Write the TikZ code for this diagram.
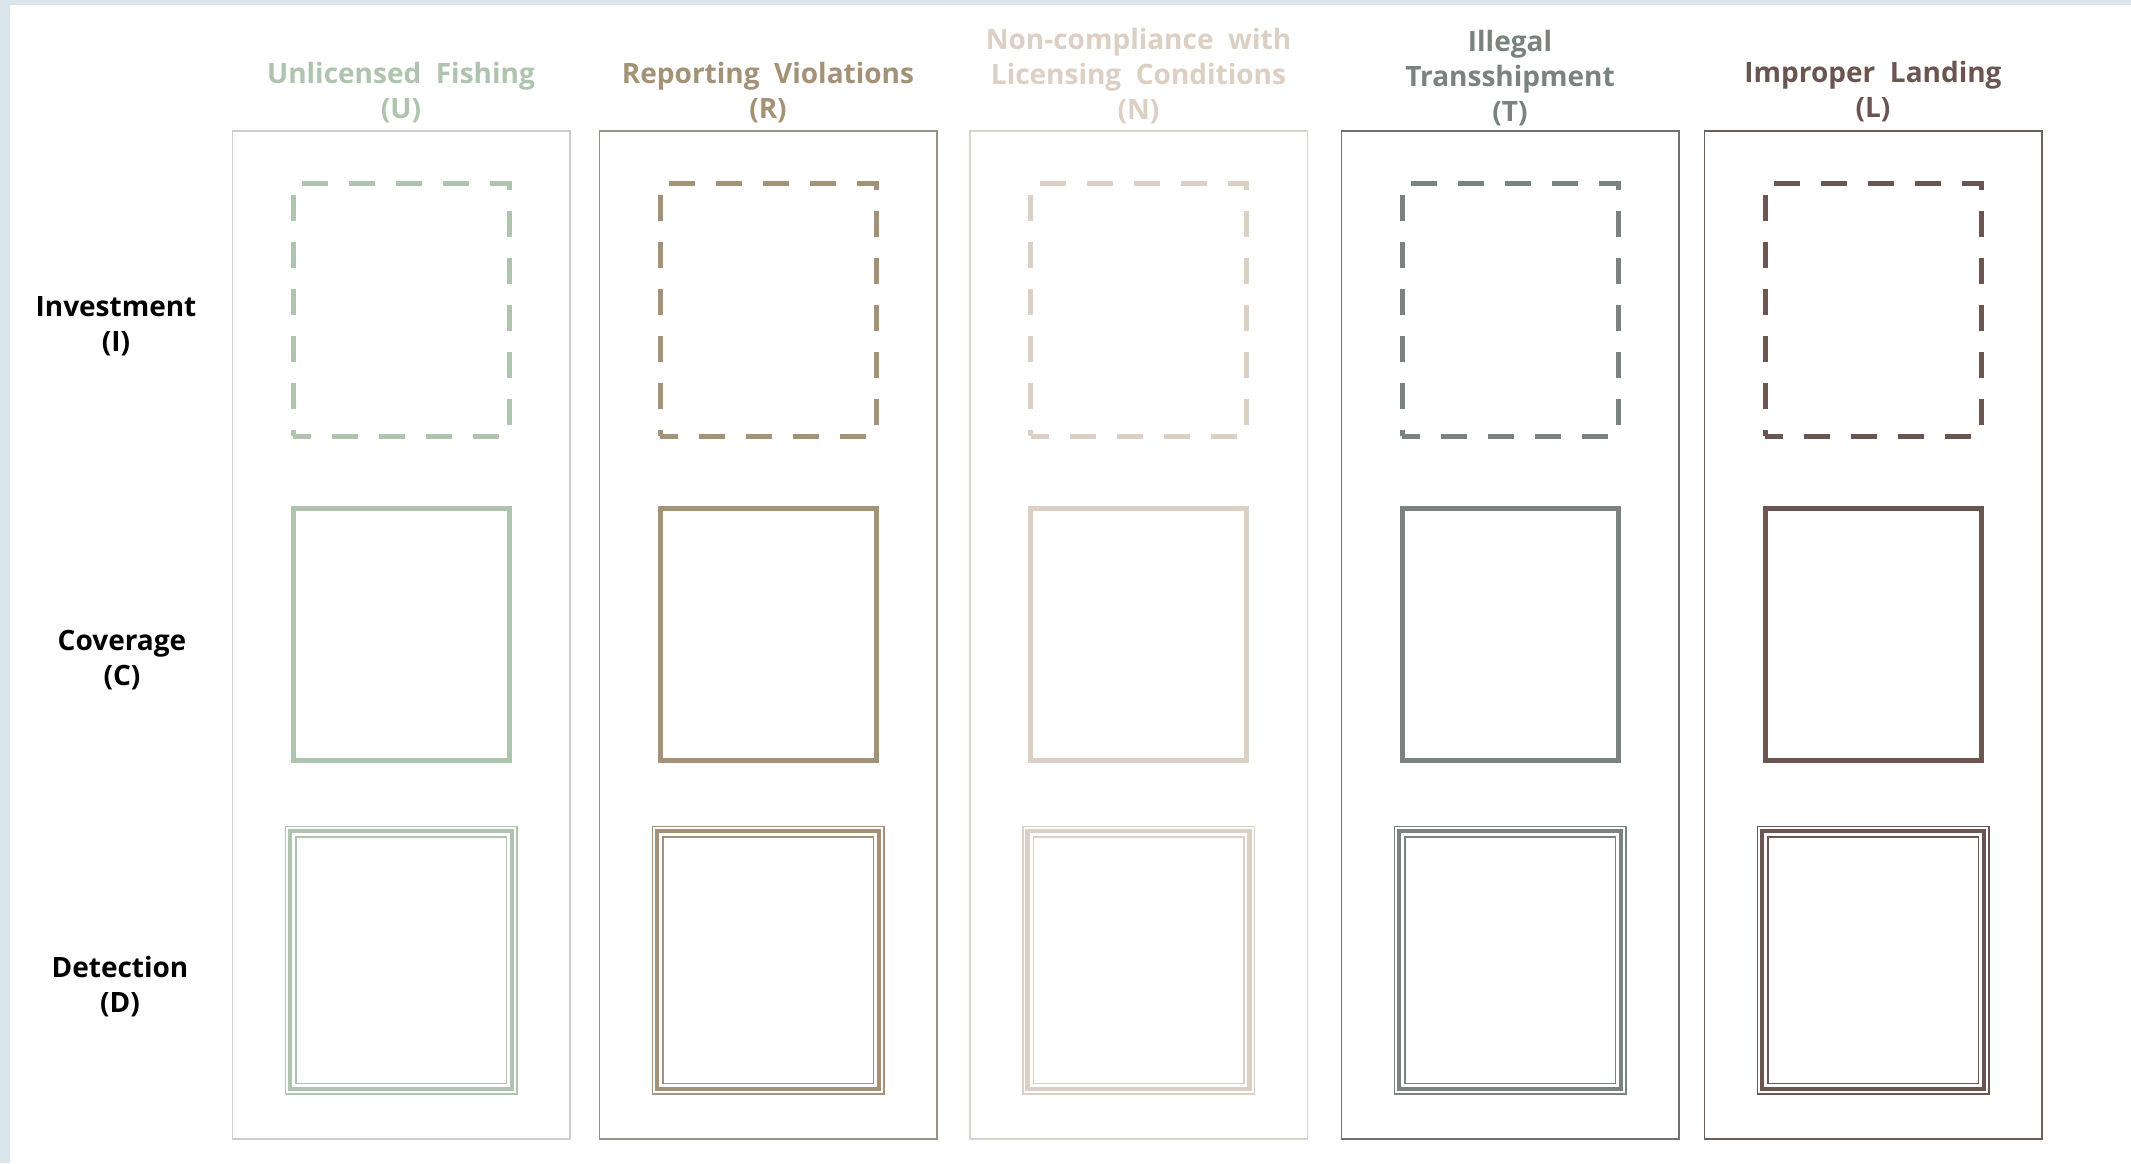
\documentclass[tikz,border=0pt]{standalone}
\usepackage{fontspec}
\setmainfont{Open Sans}
\usepackage{tikz}
\usetikzlibrary{positioning}

\definecolor{bgblue}{HTML}{DAE6EC}
\definecolor{ucol}{HTML}{AFC4AE}
\definecolor{rcol}{HTML}{A39276}
\definecolor{ncol}{HTML}{DCCFC3}
\definecolor{tcol}{HTML}{7A837E}
\definecolor{lcol}{HTML}{6A5550}
\definecolor{ufr}{HTML}{CBCECA}
\definecolor{rfr}{HTML}{97918A}
\definecolor{nfr}{HTML}{DAD2CA}
\definecolor{tfr}{HTML}{707272}
\definecolor{lfr}{HTML}{6C605C}

\begin{document}
\begin{tikzpicture}[x=1pt,y=1pt,node distance=325pt,
  every node/.style={font=\fontsize{28}{35}\selectfont\bfseries}]

% Define block styles
\tikzstyle{colframe} = [rectangle, draw, line width=1.5pt,
    minimum width=337.5pt, minimum height=1007.5pt]
\tikzstyle{invbox} = [rectangle, draw, line width=5pt,
    dash pattern=on 26pt off 21pt, dash phase=8pt,
    minimum width=216pt, minimum height=253pt]
\tikzstyle{covbox} = [rectangle, draw, line width=5pt,
    minimum width=216pt, minimum height=252pt]
\tikzstyle{detbox} = [rectangle, draw, line width=1.5pt, double=white,
    double distance=9pt, minimum width=221pt, minimum height=257pt]
\tikzstyle{detband} = [rectangle, draw, line width=4.5pt,
    minimum width=222pt, minimum height=258pt]
\tikzstyle{colhead} = [align=center, inner sep=0pt]
\tikzstyle{rowlabel} = [align=center, inner sep=0pt, text=black]

\fill[bgblue] (0,0) rectangle (2131,1163);
\fill[white] (10,0) rectangle (2131,1158);

% row labels
\node[rowlabel] (inv) at (116,837) {Investment\\(I)};
\node[rowlabel] (cov) at (122,503) {Coverage\\(C)};
\node[rowlabel] (det) at (120,176) {Detection\\(D)};

% columns
\node[colframe, draw=ufr]  (uF) at (401,528) {};
\node[covbox, draw=ucol]   (uC) at (401,528) {};
\node[invbox, draw=ucol]   (uI) [above of=uC] {};
\node[detbox, draw=ucol]   (uD) [below of=uC] {};
\node[detband, draw=ucol]  (uDb) at (uD) {};
\node[colhead, text=ucol]  (uH) [above=7pt of uF] {Unlicensed~ Fishing\\(U)};

\node[colframe, draw=rfr]  (rF) at (768,528) {};
\node[covbox, draw=rcol]   (rC) at (768,528) {};
\node[invbox, draw=rcol]   (rI) [above of=rC] {};
\node[detbox, draw=rcol]   (rD) [below of=rC] {};
\node[detband, draw=rcol]  (rDb) at (rD) {};
\node[colhead, text=rcol]  (rH) [above=7pt of rF] {Reporting~ Violations\\(R)};

\node[colframe, draw=nfr]  (nF) at (1138.5,528) {};
\node[covbox, draw=ncol]   (nC) at (1138.5,528) {};
\node[invbox, draw=ncol]   (nI) [above of=nC] {};
\node[detbox, draw=ncol]   (nD) [below of=nC] {};
\node[detband, draw=ncol]  (nDb) at (nD) {};
\node[colhead, text=ncol]  (nH) [above=6pt of nF] {Non-compliance~ with\\Licensing~ Conditions\\(N)};

\node[colframe, draw=tfr]  (tF) at (1510,528) {};
\node[covbox, draw=tcol]   (tC) at (1510,528) {};
\node[invbox, draw=tcol]   (tI) [above of=tC] {};
\node[detbox, draw=tcol]   (tD) [below of=tC] {};
\node[detband, draw=tcol]  (tDb) at (tD) {};
\node[colhead, text=tcol]  (tH) [above=4pt of tF] {Illegal\\Transshipment\\(T)};

\node[colframe, draw=lfr]  (lF) at (1873,528) {};
\node[covbox, draw=lcol]   (lC) at (1873,528) {};
\node[invbox, draw=lcol]   (lI) [above of=lC] {};
\node[detbox, draw=lcol]   (lD) [below of=lC] {};
\node[detband, draw=lcol]  (lDb) at (lD) {};
\node[colhead, text=lcol]  (lH) [above=8pt of lF] {Improper~ Landing\\(L)};

\end{tikzpicture}
\end{document}
